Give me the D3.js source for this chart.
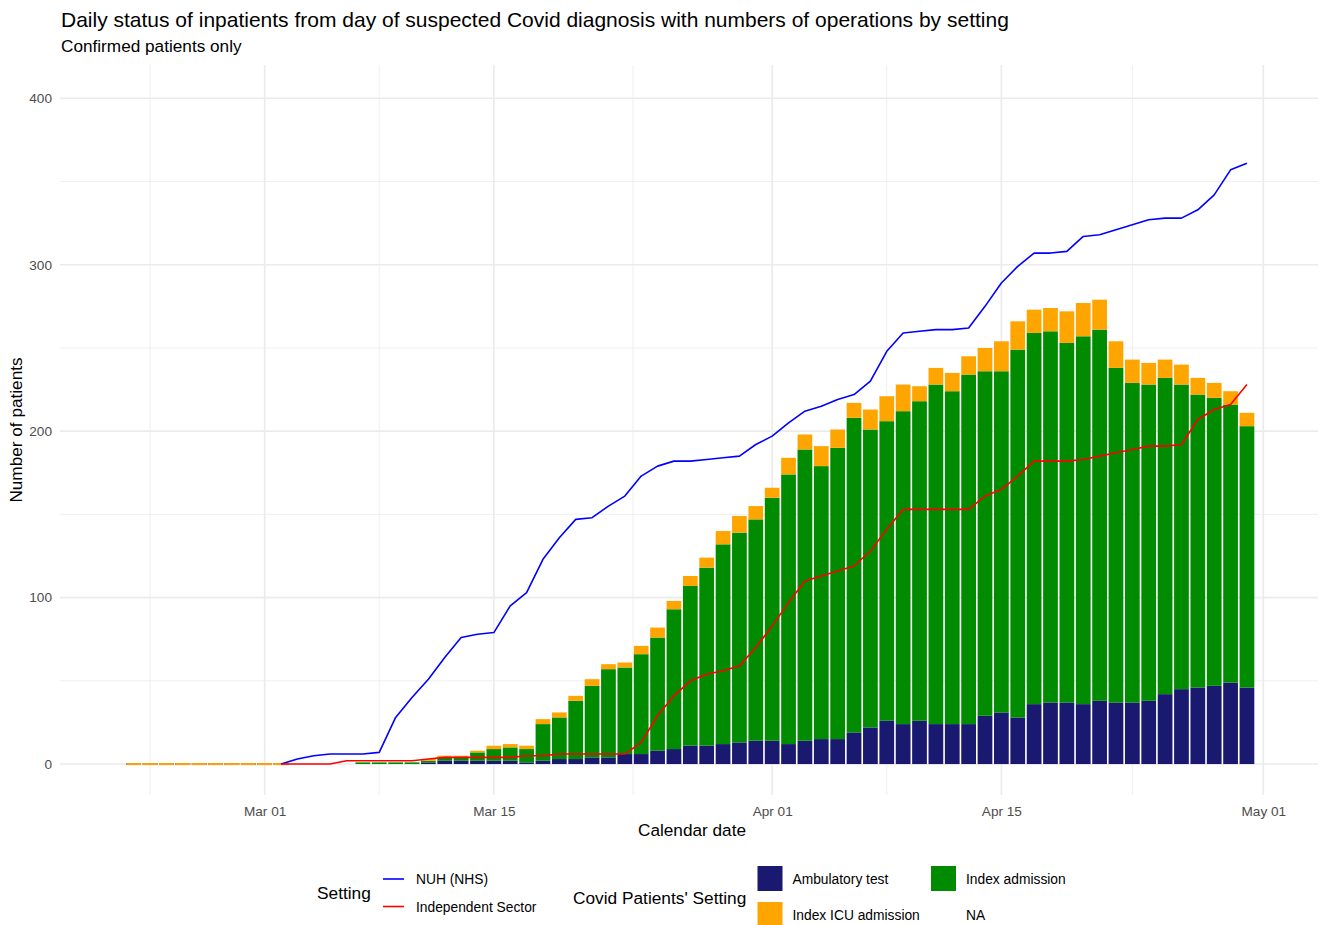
<!DOCTYPE html>
<html>
<head>
<meta charset="utf-8">
<script src="https://cdn.jsdelivr.net/npm/d3@7"></script>
<style>
  body { margin: 0; background: #ffffff; }
  svg { display: block; font-family: "Liberation Sans", Arial, sans-serif; }
</style>
</head>
<body>
<script>
(function(){

//bar days run from Feb 22 to Apr 30 2020, line days from Mar 02 to Apr 30
var barStart = "2020-02-22", barEnd = "2020-04-30";
var lineStart = "2020-03-02";

//stacked bar series (null = no bar that day), Feb 22 .. Apr 30
var ambulatory = [
  0,0,0,0,0,0,0,0,0,0,            //Feb 22 - Mar 02
  null,null,null,null,            //Mar 03 - Mar 06
  null,null,null,null,1,2,2,2,2,2,1,2,3,3,4,4,6,6,8,9,11,11,12,13,14,   //Mar 07 - Mar 31
  14,12,14,15,15,19,22,26,24,26,24,24,24,29,31,28,36,37,37,36,38,37,37,38,42,45,46,47,49,46  //Apr
];
var indexAdmission = [
  null,null,null,null,null,null,null,null,null,null,
  null,null,null,null,
  1,1,1,1,1,2,2,5,7,8,8,22,25,35,43,53,52,60,68,84,96,107,120,126,133,
  146,162,175,164,175,189,179,180,188,192,204,200,210,207,205,221,223,223,216,221,223,201,192,190,190,183,176,173,167,157
];
var indexICU = [
  0,0,0,0,0,0,0,0,0,0,
  null,null,null,null,
  null,null,null,null,1,1,1,1,2,2,2,3,3,3,4,3,3,5,6,5,6,6,8,10,8,
  6,10,9,12,11,9,12,15,16,9,10,11,11,14,18,17,14,14,19,20,18,16,14,13,11,12,10,9,8,8
];

//cumulative operations by setting, Mar 02 .. Apr 30
var nuhOps = [
  0,3,5,6,6,6,7,28,40,51,64,76,78,79,95,103,123,136,147,148,155,161,173,179,182,182,183,184,185,192,
  197,205,212,215,219,222,230,248,259,260,261,261,262,275,289,299,307,307,308,317,318,321,324,327,328,328,333,342,357,361
];
var independentOps = [
  0,0,0,0,2,2,2,2,2,3,4,4,4,4,4,5,5,6,6,6,6,6,13,29,41,50,54,56,59,70,
  83,97,110,113,116,119,128,141,153,153,153,153,153,161,165,173,182,182,182,183,185,187,189,191,191,192,207,213,216,228
];

var settingNames = ["Ambulatory test", "Index admission", "Index ICU admission", "NA"];
var settingColors = ["#191970", "#008B00", "#FFA500", null];
var lineNames = ["NUH (NHS)", "Independent Sector"];
var lineColors = ["#0000FF", "#FF0000"];

var xTickDates = ["2020-03-01", "2020-03-15", "2020-04-01", "2020-04-15", "2020-05-01"];
var yTicks = [0, 100, 200, 300, 400];
var yMinorTicks = [50, 150, 250, 350];

//frame
var width = 1323, height = 925;
var panel = {left: 60, right: 1318, top: 65, bottom: 795};

var parse = d3.utcParse("%Y-%m-%d");
var dayMs = 864e5;

var barDays = d3.utcDay.range(parse(barStart), d3.utcDay.offset(parse(barEnd), 1));
var lineDays = d3.utcDay.range(parse(lineStart), d3.utcDay.offset(parse(barEnd), 1));

var svg = d3.select("body")
    .append("svg")
    .attr("width", width)
    .attr("height", height);

//scales
var x = d3.scaleUtc()
    .domain([new Date(+barDays[0] - 4.5 * dayMs), new Date(+barDays[barDays.length - 1] + 4.34 * dayMs)])
    .range([panel.left, panel.right]);

var y = d3.scaleLinear()
    .domain([-18.6, 420])
    .range([panel.bottom, panel.top]);

//grid lines
var majorDates = xTickDates.map(parse);
var minorDates = [new Date(+majorDates[0] - (majorDates[1] - majorDates[0]) / 2)];
for (var i = 1; i < majorDates.length; i++){
    minorDates.push(new Date((+majorDates[i - 1] + +majorDates[i]) / 2));
}

var grid = svg.append("g").attr("class", "grid");

grid.selectAll(".yminor")
    .data(yMinorTicks)
    .enter()
    .append("line")
    .attr("x1", panel.left).attr("x2", panel.right)
    .attr("y1", function(d){ return y(d); })
    .attr("y2", function(d){ return y(d); })
    .attr("stroke", "#EBEBEB")
    .attr("stroke-width", 0.8);

grid.selectAll(".xminor")
    .data(minorDates)
    .enter()
    .append("line")
    .attr("y1", panel.top).attr("y2", panel.bottom)
    .attr("x1", function(d){ return x(d); })
    .attr("x2", function(d){ return x(d); })
    .attr("stroke", "#EBEBEB")
    .attr("stroke-width", 0.8);

grid.selectAll(".ymajor")
    .data(yTicks)
    .enter()
    .append("line")
    .attr("x1", panel.left).attr("x2", panel.right)
    .attr("y1", function(d){ return y(d); })
    .attr("y2", function(d){ return y(d); })
    .attr("stroke", "#EBEBEB")
    .attr("stroke-width", 1.6);

grid.selectAll(".xmajor")
    .data(majorDates)
    .enter()
    .append("line")
    .attr("y1", panel.top).attr("y2", panel.bottom)
    .attr("x1", function(d){ return x(d); })
    .attr("x2", function(d){ return x(d); })
    .attr("stroke", "#EBEBEB")
    .attr("stroke-width", 1.6);

//stack the bars: ambulatory at the bottom, then admission, then ICU
var barRows = barDays.map(function(d, i){
    return {date: d, values: [ambulatory[i], indexAdmission[i], indexICU[i]]};
});

var segments = [];
barRows.forEach(function(row){
    var base = 0;
    row.values.forEach(function(v, k){
        if (v === null) return;
        segments.push({date: row.date, y0: base, y1: base + v, k: k});
        base += v;
    });
});

var halfBar = 0.45 * dayMs;

svg.append("g")
    .attr("class", "bars")
    .selectAll("rect")
    .data(segments)
    .enter()
    .append("rect")
    .attr("x", function(d){ return x(new Date(+d.date - halfBar)); })
    .attr("width", function(d){ return x(new Date(+d.date + halfBar)) - x(new Date(+d.date - halfBar)); })
    .attr("y", function(d){
        var h = y(d.y0) - y(d.y1);
        return h > 0 ? y(d.y1) : y(d.y0) - 1;
    })
    .attr("height", function(d){
        var h = y(d.y0) - y(d.y1);
        return h > 0 ? h : 2;
    })
    .attr("fill", function(d){ return settingColors[d.k]; });

//operation lines
var lineGen = d3.line()
    .x(function(d){ return x(d.date); })
    .y(function(d){ return y(d.value); });

[nuhOps, independentOps].forEach(function(series, s){
    var pts = lineDays.map(function(d, i){ return {date: d, value: series[i]}; });
    svg.append("path")
        .datum(pts)
        .attr("d", lineGen)
        .attr("fill", "none")
        .attr("stroke", lineColors[s])
        .attr("stroke-width", 1.6)
        .attr("stroke-linejoin", "round");
});

//axes (text only, like theme_minimal)
var yAxis = d3.axisLeft(y)
    .tickValues(yTicks)
    .tickSize(0)
    .tickPadding(8);

svg.append("g")
    .attr("transform", "translate(" + panel.left + ",0)")
    .call(yAxis)
    .call(function(g){
        g.select(".domain").remove();
        g.selectAll("text")
            .attr("fill", "#4D4D4D")
            .style("font-size", "13.6px")
            .style("font-family", "'Liberation Sans', Arial, sans-serif");
    });

var xAxis = d3.axisBottom(x)
    .tickValues(majorDates)
    .tickFormat(d3.utcFormat("%b %d"))
    .tickSize(0)
    .tickPadding(11);

svg.append("g")
    .attr("transform", "translate(0," + panel.bottom + ")")
    .call(xAxis)
    .call(function(g){
        g.select(".domain").remove();
        g.selectAll("text")
            .attr("fill", "#4D4D4D")
            .style("font-size", "13.6px")
            .style("font-family", "'Liberation Sans', Arial, sans-serif");
    });

//titles
svg.append("text")
    .attr("x", 61)
    .attr("y", 27)
    .style("font-size", "21px")
    .text("Daily status of inpatients from day of suspected Covid diagnosis with numbers of operations by setting");

svg.append("text")
    .attr("x", 61)
    .attr("y", 52)
    .style("font-size", "17.2px")
    .text("Confirmed patients only");

svg.append("text")
    .attr("x", 692)
    .attr("y", 836)
    .attr("text-anchor", "middle")
    .style("font-size", "17.2px")
    .text("Calendar date");

svg.append("text")
    .attr("transform", "translate(22," + ((panel.top + panel.bottom) / 2) + ") rotate(-90)")
    .attr("text-anchor", "middle")
    .style("font-size", "17.2px")
    .text("Number of patients");

//legends
var legend = svg.append("g").attr("class", "legend");

legend.append("text")
    .attr("x", 317)
    .attr("y", 899)
    .style("font-size", "17.3px")
    .text("Setting");

lineNames.forEach(function(name, i){
    var ly = 879 + i * 27.5;
    legend.append("line")
        .attr("x1", 383).attr("x2", 404)
        .attr("y1", ly).attr("y2", ly)
        .attr("stroke", lineColors[i])
        .attr("stroke-width", 1.6);
    legend.append("text")
        .attr("x", 416)
        .attr("y", ly + 5)
        .style("font-size", "13.8px")
        .text(name);
});

legend.append("text")
    .attr("x", 573)
    .attr("y", 904)
    .style("font-size", "17.3px")
    .text("Covid Patients' Setting");

settingNames.forEach(function(name, i){
    //legend fills row-wise: Ambulatory, Index admission / ICU, NA
    var col = i % 2,
        row = i < 2 ? 0 : 1;
    var kx = col === 0 ? 757.5 : 931,
        ky = 866 + row * 36;
    if (settingColors[i]){
        legend.append("rect")
            .attr("x", kx)
            .attr("y", ky)
            .attr("width", 25)
            .attr("height", 25)
            .attr("fill", settingColors[i]);
    }
    legend.append("text")
        .attr("x", kx + 35)
        .attr("y", ky + 18)
        .style("font-size", "13.8px")
        .text(name);
});

})();
</script>
</body>
</html>
